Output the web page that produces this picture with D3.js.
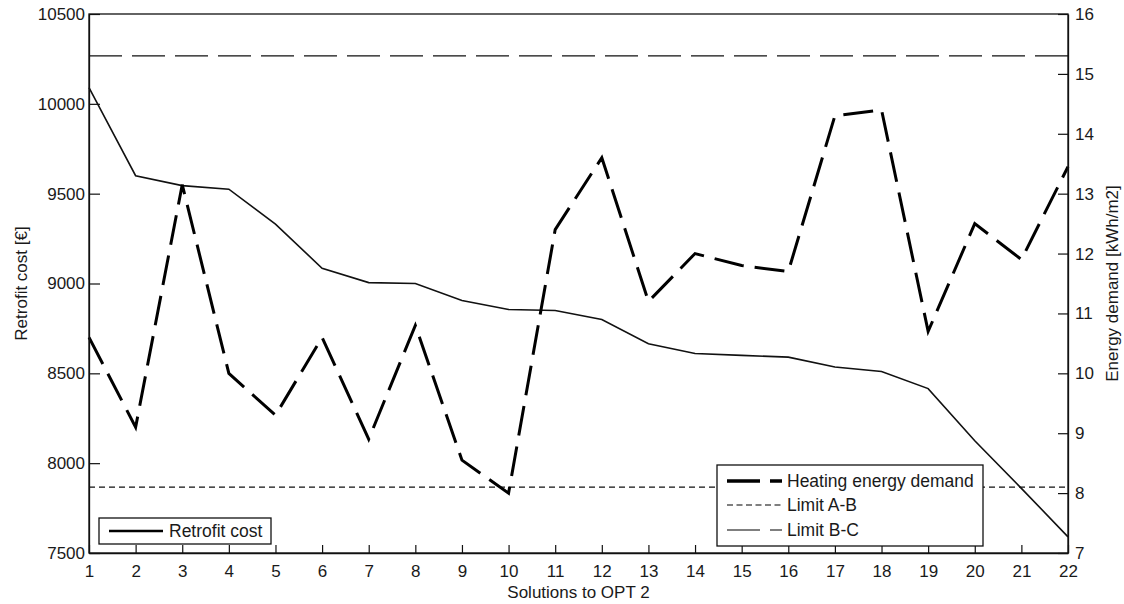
<!DOCTYPE html>
<html>
<head>
<meta charset="utf-8">
<script src="https://cdn.jsdelivr.net/npm/d3@7"></script>
<style>
  body { margin: 0; background: #fff; }
  text { font-family: "Liberation Sans", Arial, sans-serif; fill: #1a1a1a; }
</style>
</head>
<body>
<svg id="chart" width="1124" height="604"></svg>
<script>
const solutions = d3.range(1, 23);
const retrofitCost = [10090, 9600, 9545, 9525, 9330, 9085, 9005, 9000, 8905, 8855, 8850, 8800, 8665, 8610, 8600, 8590, 8535, 8510, 8415, 8125, 7860, 7590];
const heatingDemand = [10.6, 9.1, 13.15, 10.0, 9.3, 10.6, 8.9, 10.8, 8.55, 8.0, 12.4, 13.6, 11.2, 12.0, 11.8, 11.7, 14.3, 14.4, 10.7, 12.5, 11.9, 13.45];
const limitAB = 8.1;
const limitBC = 15.3;
const leftTicks = [7500, 8000, 8500, 9000, 9500, 10000, 10500];
const rightTicks = [7, 8, 9, 10, 11, 12, 13, 14, 15, 16];

const svg = d3.select("#chart");
const L = 89, R = 1068, T = 14, B = 553;

const x = d3.scaleLinear().domain([1, 22]).range([L, R]);
const yL = d3.scaleLinear().domain([7500, 10500]).range([B, T]);
const yR = d3.scaleLinear().domain([7, 16]).range([B, T]);

// limit lines
svg.append("line").attr("x1", L).attr("x2", R)
  .attr("y1", yR(limitAB)).attr("y2", yR(limitAB))
  .attr("stroke", "#111").attr("stroke-width", 1.2).attr("stroke-dasharray", "6,4");
svg.append("line").attr("x1", L).attr("x2", R)
  .attr("y1", yR(limitBC)).attr("y2", yR(limitBC))
  .attr("stroke", "#111").attr("stroke-width", 1.2).attr("stroke-dasharray", "33,10");

// cost line
svg.append("path").datum(retrofitCost)
  .attr("fill", "none").attr("stroke", "#111").attr("stroke-width", 1.6)
  .attr("d", d3.line().x((d, i) => x(solutions[i])).y(d => yL(d)));

// heating line
svg.append("path").datum(heatingDemand)
  .attr("fill", "none").attr("stroke", "#000").attr("stroke-width", 3)
  .attr("stroke-dasharray", "30,11")
  .attr("d", d3.line().x((d, i) => x(solutions[i])).y(d => yR(d)));

// box
svg.append("rect").attr("x", L).attr("y", T).attr("width", R - L).attr("height", B - T)
  .attr("fill", "none").attr("stroke", "#111").attr("stroke-width", 1.3);

// axes
const fs = "17px";
const ax = svg.append("g").attr("transform", `translate(0,${B})`)
  .call(d3.axisBottom(x).tickValues(solutions).tickFormat(d3.format("d")).tickSizeInner(-8).tickSizeOuter(0).tickPadding(12));
const axl = svg.append("g").attr("transform", `translate(${L},0)`)
  .call(d3.axisLeft(yL).tickValues(leftTicks).tickFormat(d3.format("d")).tickSizeInner(-11).tickSizeOuter(0).tickPadding(4));
const axr = svg.append("g").attr("transform", `translate(${R},0)`)
  .call(d3.axisRight(yR).tickValues(rightTicks).tickFormat(d3.format("d")).tickSizeInner(-10).tickSizeOuter(0).tickPadding(7));
[ax, axl, axr].forEach(g => {
  g.select(".domain").attr("stroke", "#111").attr("stroke-width", 1.3);
  g.selectAll(".tick line").attr("stroke", "#111").attr("stroke-width", 1.2);
  g.selectAll("text").style("font-size", fs).style("font-family", "Liberation Sans, Arial, sans-serif").attr("fill", "#1a1a1a");
});

// axis titles
svg.append("text").attr("transform", `translate(27,${(T + B) / 2}) rotate(-90)`)
  .attr("text-anchor", "middle").style("font-size", "17px").text("Retrofit cost [€]");
svg.append("text").attr("transform", `translate(1118,${(T + B) / 2}) rotate(-90)`)
  .attr("text-anchor", "middle").style("font-size", "17px").text("Energy demand [kWh/m2]");
svg.append("text").attr("x", (L + R) / 2).attr("y", 598)
  .attr("text-anchor", "middle").style("font-size", "17px").text("Solutions to OPT 2");

// legend 1
const lg1 = svg.append("g");
lg1.append("rect").attr("x", 99).attr("y", 518).attr("width", 172).attr("height", 26)
  .attr("fill", "#fff").attr("stroke", "#111").attr("stroke-width", 1.3);
lg1.append("line").attr("x1", 109).attr("x2", 163).attr("y1", 531).attr("y2", 531)
  .attr("stroke", "#000").attr("stroke-width", 2.5);
lg1.append("text").attr("x", 169).attr("y", 537).style("font-size", "17.5px").text("Retrofit cost");

// legend 2
const lg2 = svg.append("g");
lg2.append("rect").attr("x", 717).attr("y", 465).attr("width", 266).attr("height", 81)
  .attr("fill", "#fff").attr("stroke", "#111").attr("stroke-width", 1.3);
const items = [
  { label: "Heating energy demand", w: 3.5, dash: "33,10", y: 481 },
  { label: "Limit A-B", w: 1.2, dash: "6,3.5", y: 505 },
  { label: "Limit B-C", w: 1.2, dash: "33,10", y: 530 }
];
items.forEach(it => {
  lg2.append("line").attr("x1", 727).attr("x2", 782).attr("y1", it.y).attr("y2", it.y)
    .attr("stroke", "#000").attr("stroke-width", it.w).attr("stroke-dasharray", it.dash);
  lg2.append("text").attr("x", 787).attr("y", it.y + 6).style("font-size", "17.5px").text(it.label);
});
</script>
</body>
</html>
